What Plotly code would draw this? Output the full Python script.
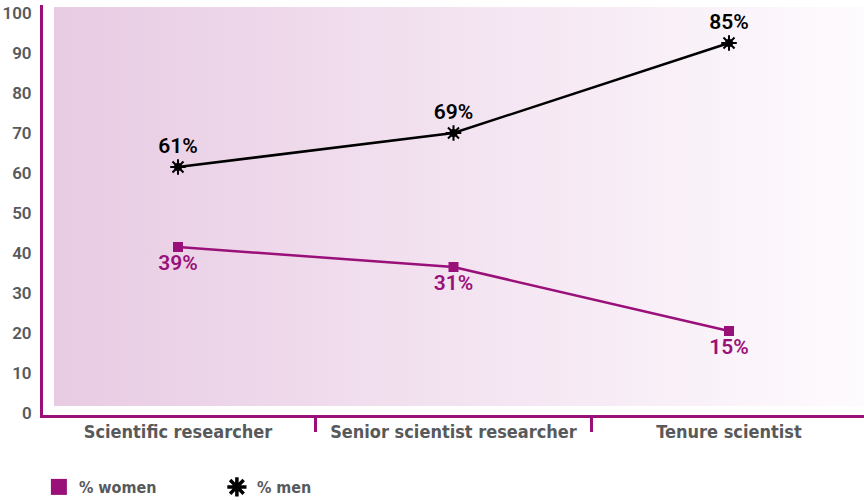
import base64
import plotly.graph_objects as go

# ---- data ----
categories = ["Scientific researcher", "Senior scientist researcher", "Tenure scientist"]
women_values = [41.5, 36.5, 20.5]
men_values = [61.5, 70.0, 92.5]
women_labels = ["39%", "31%", "15%"]
men_labels = ["61%", "69%", "85%"]
y_ticks = [0, 10, 20, 30, 40, 50, 60, 70, 80, 90, 100]

PURPLE = "#9A1079"
GRAY = "#58595B"
NARROW = "Liberation Sans Narrow, DejaVu Sans Condensed, Roboto Condensed, Arial Narrow, sans-serif"

fig = go.Figure()

# lines (no legend)
fig.add_trace(go.Scatter(x=categories, y=women_values, mode="lines",
                         line=dict(color=PURPLE, width=2.5), showlegend=False, hoverinfo="skip"))
fig.add_trace(go.Scatter(x=categories, y=men_values, mode="lines",
                         line=dict(color="black", width=2.5), showlegend=False, hoverinfo="skip"))

# markers + labels
fig.add_trace(go.Scatter(x=categories, y=women_values, mode="markers+text",
                         marker=dict(symbol="square", size=10, color=PURPLE),
                         text=women_labels, textposition="bottom center",
                         textfont=dict(family="Roboto", size=21, color=PURPLE, weight=600),
                         showlegend=False))
fig.add_trace(go.Scatter(x=categories, y=men_values, mode="markers",
                         marker=dict(symbol="circle", size=8, color="black"),
                         showlegend=False, hoverinfo="skip"))
fig.add_trace(go.Scatter(x=categories, y=men_values, mode="markers+text",
                         marker=dict(symbol="asterisk-open", size=13, color="black",
                                     line=dict(width=2, color="black")),
                         text=men_labels, textposition="top center",
                         textfont=dict(family="Roboto", size=21, color="black", weight=600),
                         showlegend=False))

# legend entries
fig.add_trace(go.Scatter(x=[None], y=[None], mode="markers", name="% women",
                         marker=dict(symbol="square", size=16, color=PURPLE)))
fig.add_trace(go.Scatter(x=[None], y=[None], mode="markers", name="% men",
                         marker=dict(symbol="asterisk-open", size=16, color="black",
                                     line=dict(width=3.5, color="black"))))

svg = ('<svg xmlns="http://www.w3.org/2000/svg" width="100" height="10" viewBox="0 0 100 10" '
       'preserveAspectRatio="none"><defs><linearGradient id="g" x1="0" x2="1" y1="0" y2="0">'
       '<stop offset="0" stop-color="#E8CBE3"/><stop offset="1" stop-color="#FEFBFE"/>'
       '</linearGradient></defs><rect width="100" height="10" fill="url(#g)"/></svg>')
src = "data:image/svg+xml;base64," + base64.b64encode(svg.encode()).decode()

fig.add_layout_image(dict(source=src, xref="paper", yref="paper",
                          x=0.0134, y=0.995, sizex=0.9866, sizey=0.973,
                          xanchor="left", yanchor="top", sizing="stretch", layer="below"))

fig.update_layout(
    width=864, height=500,
    margin=dict(l=43, r=0, t=5, b=85),
    paper_bgcolor="white", plot_bgcolor="rgba(0,0,0,0)",
    showlegend=True,
    legend=dict(orientation="h", x=-0.005, xanchor="left", yref="container", y=0.026,
                yanchor="middle", entrywidth=133, entrywidthmode="pixels",
                font=dict(family=NARROW, size=16, color=GRAY, weight="bold")),
    xaxis=dict(type="category", range=[-0.49, 2.49], showgrid=False, zeroline=False,
               showline=True, linecolor=PURPLE, linewidth=3,
               tickson="boundaries", ticks="outside", ticklen=14, tickwidth=3, tickcolor=PURPLE,
               ticklabelstandoff=-2,
               tickfont=dict(family=NARROW, size=18, color=GRAY, weight="bold"),
               automargin=False, fixedrange=True),
    yaxis=dict(range=[-0.5, 102], tickvals=y_ticks, showgrid=False, zeroline=False,
               showline=True, linecolor=PURPLE, linewidth=3, ticks="",
               ticklabelstandoff=5,
               tickfont=dict(family="Roboto", size=17, color=GRAY, weight=600),
               automargin=False, fixedrange=True),
)

fig.write_html("out.html", config={"displayModeBar": False},
               post_script="document.body.style.margin='0';")
